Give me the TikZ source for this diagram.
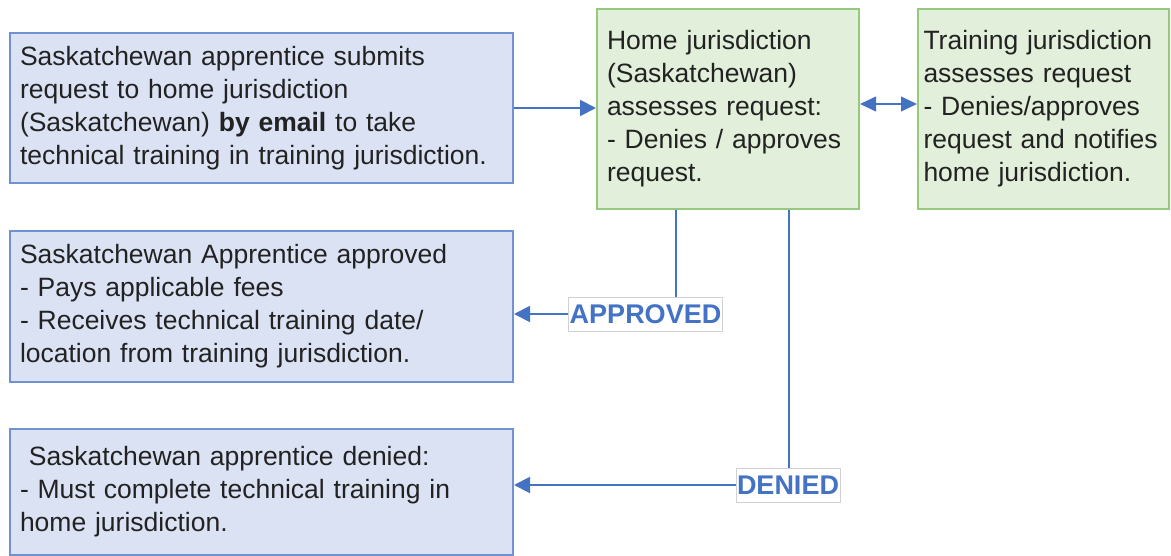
\documentclass[tikz,border=0pt]{standalone}
\usepackage{fontspec}
\setmainfont{Liberation Sans}
\usetikzlibrary{arrows.meta}

\definecolor{bluefill}{RGB}{218,226,243}
\definecolor{blueedge}{RGB}{112,146,209}
\definecolor{greenfill}{RGB}{226,239,218}
\definecolor{greenedge}{RGB}{150,200,125}
\definecolor{linkblue}{RGB}{68,114,196}
\definecolor{textgray}{RGB}{34,34,34}

\tikzset{every picture/.style={line width=0.75pt}}
\tikzset{
  stepbox/.style={rectangle, line width=1.5pt, align=left, inner xsep=7.5pt, inner ysep=0pt,
    text=textgray, font=\fontsize{19.875pt}{24.75pt}\selectfont},
  bluebox/.style={stepbox, draw=blueedge, fill=bluefill},
  greenbox/.style={stepbox, draw=greenedge, fill=greenfill},
  verdict/.style={rectangle, draw=black!18, fill=white, line width=0.75pt, text=linkblue,
    font=\fontsize{20.25pt}{24.75pt}\selectfont\bfseries, inner xsep=0.75pt, inner ysep=0pt, minimum height=25.5pt},
  link/.style={draw=linkblue, line width=1.5pt},
  flow/.style={link, -{Triangle[length=12pt,width=12pt]}},
  dflow/.style={link, {Triangle[length=12pt,width=11pt]}-{Triangle[length=12pt,width=11pt]}},
}

\begin{document}
\begin{tikzpicture}[x=0.75pt,y=0.75pt,yscale=-1,xscale=1]
        \useasboundingbox (0,0) rectangle (1171,556);

        %Shape: Rectangle [id:submit]
        \node[bluebox, minimum width=377.25pt, minimum height=112.5pt, text width=362.25pt] (submit) at (261.5,108)
          {Saskatchewan apprentice submits\\request to home jurisdiction\\(Saskatchewan) \textbf{by email} to take\\technical training in training jurisdiction.};
        %Shape: Rectangle [id:home]
        \node[greenbox, minimum width=196.5pt, minimum height=150pt, text width=181.5pt] (home) at (728,109)
          {Home jurisdiction\\(Saskatchewan)\\assesses request:\\- Denies / approves\\request.};
        %Shape: Rectangle [id:train]
        \node[greenbox, minimum width=188.25pt, minimum height=150pt, text width=180pt, inner xsep=4.125pt] (train) at (1043.5,109)
          {Training jurisdiction\\assesses request\\- Denies/approves\\request and notifies\\home jurisdiction.};
        %Shape: Rectangle [id:approved]
        \node[bluebox, minimum width=377.25pt, minimum height=113.25pt, text width=362.25pt] (approved) at (261.5,306.5)
          {Saskatchewan Apprentice approved\\- Pays applicable fees\\- Receives technical training date/\\location from training jurisdiction.};
        %Shape: Rectangle [id:denied]
        \node[bluebox, minimum width=377.25pt, minimum height=94.5pt, text width=362.25pt] (denied) at (261.5,492)
          {\ Saskatchewan apprentice denied:\\- Must complete technical training in\\home jurisdiction.};

        %Text Node
        \node[verdict] (lblA) at (645.5,314) {APPROVED};
        %Text Node
        \node[verdict] (lblD) at (788,485) {DENIED};

        \coordinate (aTop) at ([xshift=60pt]home.south west);
        \coordinate (dTop) at ([xshift=144.75pt]home.south west);

        %Straight Lines [id:submit-home]
        \draw[flow] (submit.east) -- (submit.east -| home.west);
        %Straight Lines [id:home-train]
        \draw[dflow] ([yshift=-3.75pt]home.east) -- ([yshift=-3.75pt]home.east -| train.west);
        %Straight Lines [id:approved]
        \draw[link] (aTop) -- (aTop |- lblA.north);
        \draw[flow] (lblA.west) -- (lblA.west -| approved.east);
        %Straight Lines [id:denied]
        \draw[link] (dTop) -- (dTop |- lblD.north);
        \draw[flow] (lblD.west) -- (lblD.west -| denied.east);

\end{tikzpicture}
\end{document}
